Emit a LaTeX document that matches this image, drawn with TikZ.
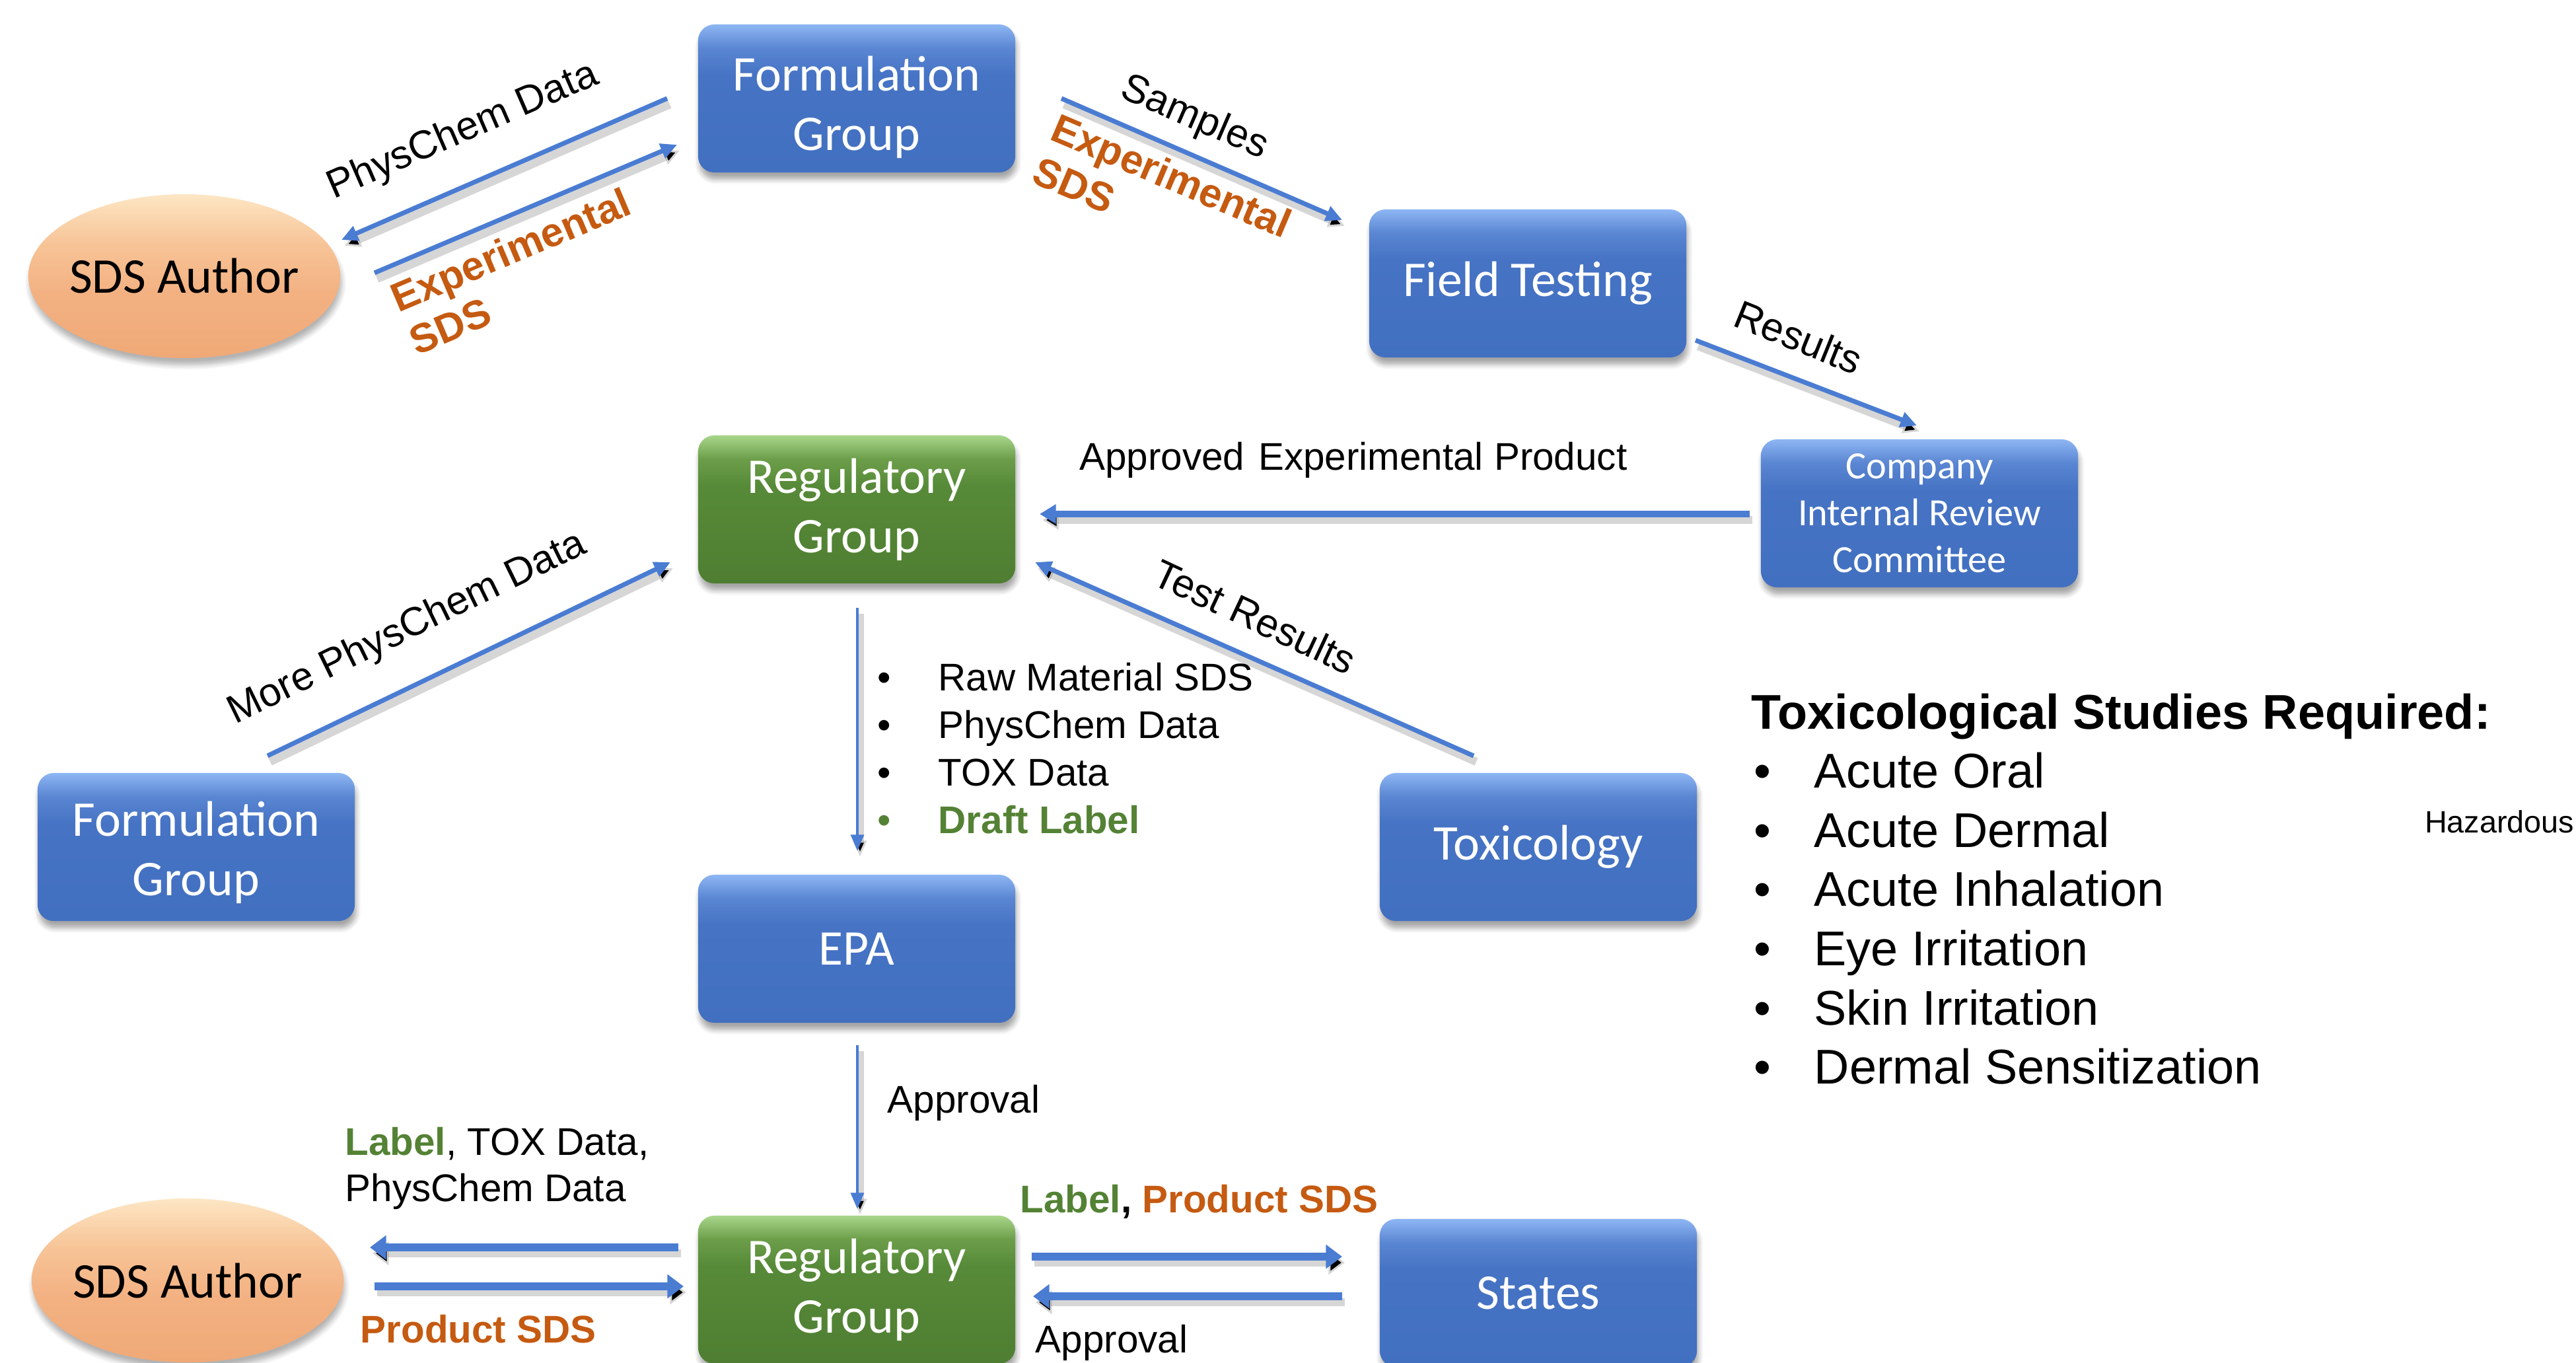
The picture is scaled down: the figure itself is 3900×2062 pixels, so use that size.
\documentclass[tikz,border=0pt]{standalone}
\usepackage{fontspec}
\setmainfont{Liberation Sans}
\newfontfamily\boxfont{Carlito}
\usetikzlibrary{arrows.meta,shapes.geometric,shadows.blur}

% palette
\definecolor{bxBlue}{HTML}{4673C4}
\definecolor{bxBlueMid}{HTML}{5A86D2}
\definecolor{bxBlueTop}{HTML}{8EB6F4}
\definecolor{bxBlueBot}{HTML}{4270C0}
\definecolor{bxGreen}{HTML}{578A38}
\definecolor{bxGreenMid}{HTML}{6C9E4A}
\definecolor{bxGreenTop}{HTML}{A8D68A}
\definecolor{bxGreenBot}{HTML}{4F7E32}
\definecolor{peachBot}{HTML}{EFA977}
\definecolor{peach}{HTML}{F3B182}
\definecolor{peachMid}{HTML}{F7C497}
\definecolor{peachTop}{HTML}{FDE6C4}
\definecolor{arrowBlue}{HTML}{4A7CD2}
\definecolor{sdsOrange}{HTML}{C55A11}
\definecolor{lblGreen}{HTML}{548235}

% glossy fills (path spans 25bp..75bp)
\pgfdeclareverticalshading{blueglass}{100bp}{color(0bp)=(bxBlueBot); color(25bp)=(bxBlueBot); color(58bp)=(bxBlue); color(67bp)=(bxBlueMid); color(75bp)=(bxBlueTop); color(100bp)=(bxBlueTop)}
\pgfdeclareverticalshading{greenglass}{100bp}{color(0bp)=(bxGreenBot); color(25bp)=(bxGreenBot); color(58bp)=(bxGreen); color(67bp)=(bxGreenMid); color(75bp)=(bxGreenTop); color(100bp)=(bxGreenTop)}
\pgfdeclareverticalshading{peachglass}{100bp}{color(0bp)=(peachBot); color(25bp)=(peachBot); color(45bp)=(peach); color(60bp)=(peachMid); color(75bp)=(peachTop); color(100bp)=(peachTop)}

\tikzset{
  stage/.style={rectangle, rounded corners=7pt, minimum width=4.8cm, minimum height=2.24cm,
    shade, shading=blueglass, text=white, align=center,
    font=\boxfont\fontsize{21.5}{25.5}\selectfont,
    blur shadow={shadow xshift=0.6pt, shadow yshift=-3pt, shadow blur steps=6, shadow opacity=35}},
  regstage/.style={stage, shading=greenglass},
  author/.style={ellipse, minimum width=4.72cm, minimum height=2.48cm, inner sep=0pt,
    shade, shading=peachglass, text=black,
    font=\boxfont\fontsize{21.5}{25.5}\selectfont,
    blur shadow={shadow xshift=0.6pt, shadow yshift=-3pt, shadow blur steps=6, shadow opacity=30}},
  flow/.style={draw=arrowBlue, line width=2pt, -{Triangle[length=7pt,width=6.5pt]},
    preaction={draw=black, draw opacity=0.16, line width=3.5pt, transform canvas={shift={(4,9)}}}},
  thinflow/.style={flow, line width=1.4pt, -{Triangle[length=7pt,width=5.5pt]}},
  wideflow/.style={flow, line width=3.4pt, -{Triangle[length=7pt,width=10pt]}},
  lbl/.style={inner sep=0pt, text=black, font=\fontsize{16.6}{20}\selectfont},
  rlbl/.style={inner sep=0pt, text=black, font=\fontsize{17.2}{20}\selectfont},
  sdslbl/.style={inner sep=0pt, text=sdsOrange, align=left, font=\bfseries\fontsize{17.5}{20}\selectfont},
  bigitem/.style={inner sep=0pt, anchor=base west, text=black, font=\fontsize{21}{25}\selectfont},
}

\begin{document}
\begin{tikzpicture}[x=0.01cm, y=-0.01cm]
\useasboundingbox (0,0) rectangle (3900,2062);
\clip (0,0) rectangle (3900,2062);

% stages
\node[stage]    (fgTop)  at (1297,149)  {\rule{0pt}{22.5pt}Formulation\\Group};
\node[author]   (sdsTop) at (279,418)   {\makebox[0pt]{SDS Author}};
\node[stage]    (field)  at (2313,429)  {Field Testing};
\node[stage, font=\boxfont\fontsize{16.6}{20.2}\selectfont]
                (review) at (2906,777)  {Company\\Internal Review\\Committee};
\node[regstage] (regTop) at (1297,771)  {Regulatory\\Group};
\node[stage]    (fgLeft) at (297,1282)  {\rule{0pt}{19.5pt}Formulation\\Group};
\node[stage]    (tox)    at (2329,1282) {Toxicology};
\node[stage]    (epa)    at (1297,1436) {EPA};
\node[author]   (sdsBot) at (284,1938)  {\makebox[0pt]{SDS Author}};
\node[regstage] (regBot) at (1297,1952) {Regulatory\\Group};
\node[stage]    (states) at (2329,1957) {States};

% connector end points
\coordinate (physFrom) at (1010,149);  \coordinate (physTo) at (517,363);
\coordinate (expFrom)  at (567,413);   \coordinate (expTo)  at (1025,219);
\coordinate (smpFrom)  at (1607,149);  \coordinate (smpTo)  at (2032,333);
\coordinate (resFrom)  at (2567,515);  \coordinate (resTo)  at (2902,644);
\coordinate (aprFrom)  at (2649,778);  \coordinate (aprTo)  at (1574,778);
\coordinate (tstFrom)  at (2231,1144); \coordinate (tstTo)  at (1567,851);
\coordinate (morFrom)  at (405,1144);  \coordinate (morTo)  at (1015,851);
\coordinate (epaFrom)  at (1298,920);  \coordinate (epaTo)  at (1298,1288);
\coordinate (okFrom)   at (1298,1582); \coordinate (okTo)   at (1298,1830);
\coordinate (lblFrom)  at (1027,1888); \coordinate (lblTo)  at (560,1888);
\coordinate (psdFrom)  at (567,1947);  \coordinate (psdTo)  at (1035,1947);
\coordinate (stFrom)   at (1562,1902); \coordinate (stTo)   at (2032,1902);
\coordinate (sbFrom)   at (2032,1962); \coordinate (sbTo)   at (1564,1962);

% connectors
\draw[flow] (physFrom) -- (physTo);
\draw[flow] (expFrom) -- (expTo);
\draw[flow] (smpFrom) -- (smpTo);
\draw[flow] (resFrom) -- (resTo);
\draw[flow, line width=2.6pt, -{Triangle[length=7pt,width=8pt]}] (aprFrom) -- (aprTo);
\draw[flow] (tstFrom) -- (tstTo);
\draw[flow] (morFrom) -- (morTo);
\draw[thinflow] (epaFrom) -- (epaTo);
\draw[thinflow] (okFrom) -- (okTo);
\draw[wideflow] (lblFrom) -- (lblTo);
\draw[wideflow] (psdFrom) -- (psdTo);
\draw[wideflow] (stFrom) -- (stTo);
\draw[wideflow] (sbFrom) -- (sbTo);

% connector labels
\node[rlbl, rotate=23.5]  (tPhys)    at (701,199)  {PhysChem Data};
\node[sdslbl, rotate=23]  (tExpA)    at (787,410)  {Experimental\\SDS};
\node[rlbl, rotate=-23.4] (tSamples) at (1808,179) {Samples};
\node[sdslbl, rotate=-23] (tExpB)    at (1760,298) {Experimental\\SDS};
\node[rlbl, rotate=-22]   (tResults) at (2723,510) {Results};
\node[lbl]                (tApr)     at (2049,696) {Approved\hspace{0.08em} Experimental Product};
\node[rlbl, rotate=-25]   (tTest)    at (1900,933) {Test Results};
\node[rlbl, rotate=26]    (tMore)    at (617,952)  {More PhysChem Data};

% submission contents
\node[lbl, anchor=base west] (d1) at (1328,1045) {•};
\node[lbl, anchor=base west] (e1) at (1420,1045) {Raw Material SDS};
\node[lbl, anchor=base west] (d2) at (1328,1117) {•};
\node[lbl, anchor=base west] (e2) at (1420,1117) {PhysChem Data};
\node[lbl, anchor=base west] (d3) at (1328,1189) {•};
\node[lbl, anchor=base west] (e3) at (1420,1189) {TOX Data};
\node[lbl, anchor=base west, text=lblGreen] (d4) at (1328,1261) {•};
\node[lbl, anchor=base west, text=lblGreen, font=\bfseries\fontsize{16.6}{20}\selectfont] (e4) at (1420,1261) {Draft Label};

\node[lbl, anchor=base west] (tOk) at (1343,1684) {Approval};
\node[lbl, anchor=base west] (tLab1) at (522,1748) {\textcolor{lblGreen}{\bfseries Label}, TOX Data,};
\node[lbl, anchor=base west] (tLab2) at (522,1818) {PhysChem Data};
\node[lbl, anchor=base west, text=sdsOrange, font=\bfseries\fontsize{16.6}{20}\selectfont] (tPsd) at (545,2032) {Product SDS};
\node[lbl, anchor=base west, font=\bfseries\fontsize{16.6}{20}\selectfont] (tSt) at (1544,1835) {\textcolor{lblGreen}{Label}, \textcolor{sdsOrange}{Product SDS}};
\node[lbl, anchor=base west] (tSb) at (1567,2047) {Approval};

% toxicology requirements
\node[bigitem, font=\bfseries\fontsize{21}{25}\selectfont] (hReq) at (2651,1103) {Toxicological Studies Required:};
\node[bigitem] (g1) at (2655,1192) {•}; \node[bigitem] (r1) at (2746,1192) {Acute Oral};
\node[bigitem] (g2) at (2655,1282) {•}; \node[bigitem] (r2) at (2746,1282) {Acute Dermal};
\node[bigitem] (g3) at (2655,1371) {•}; \node[bigitem] (r3) at (2746,1371) {Acute Inhalation};
\node[bigitem] (g4) at (2655,1461) {•}; \node[bigitem] (r4) at (2746,1461) {Eye Irritation};
\node[bigitem] (g5) at (2655,1551) {•}; \node[bigitem] (r5) at (2746,1551) {Skin Irritation};
\node[bigitem] (g6) at (2655,1640) {•}; \node[bigitem] (r6) at (2746,1640) {Dermal Sensitization};

\node[inner sep=0pt, anchor=base east, font=\fontsize{13.3}{16}\selectfont] (hz) at (3898,1260) {Hazardous};
\end{tikzpicture}
\end{document}
